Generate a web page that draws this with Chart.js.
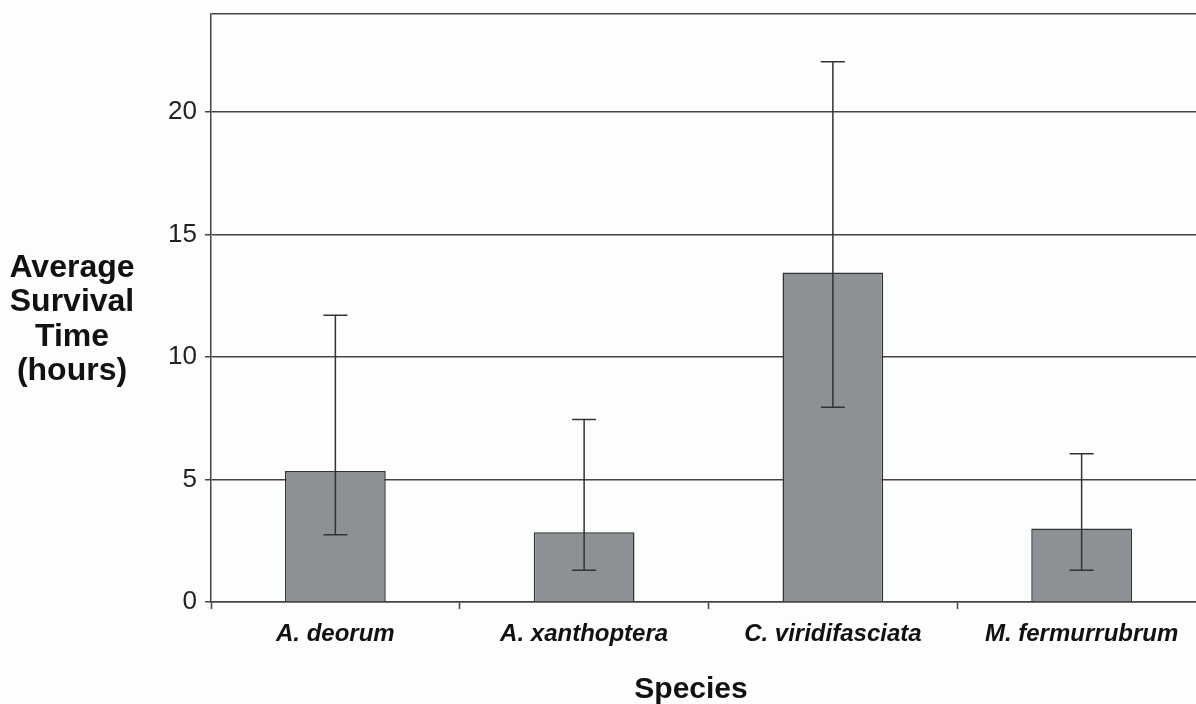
<!DOCTYPE html>
<html>
<head>
<meta charset="utf-8">
<script src="https://cdn.jsdelivr.net/npm/chart.js@4/dist/chart.umd.min.js"></script>
<style>
  html, body { margin: 0; padding: 0; overflow: hidden; background: #fcfdfd; }
  #wrap { position: relative; width: 1206px; height: 704px; }
</style>
</head>
<body>
<div id="wrap"><canvas id="survival_canvas"></canvas></div>
<script>
// data
var species    = ['A. deorum', 'A. xanthoptera', 'C. viridifasciata', 'M. fermurrubrum'];
var meanHours  = [5.35, 2.85, 13.45, 3.0];
var errLow     = [2.75, 1.3, 7.95, 1.3];
var errHigh    = [11.7, 7.45, 22.05, 6.05];
var yTicks     = [0, 5, 10, 15, 20, 24];
var yTitle     = ['Average', 'Survival', 'Time', '(hours)'];
var xTitle     = 'Species';

var FONT = '"Liberation Sans", Arial, sans-serif';

//  error bars + axis titles
var errorBarsPlugin = {
  id: 'errorBars',
  afterDatasetsDraw: function(chart) {
    var ctx = chart.ctx,
        xs  = chart.scales.x,
        ys  = chart.scales.y;

    ctx.save();
    ctx.strokeStyle = '#333';
    ctx.lineWidth = 1.5;
    for (var i = 0; i < species.length; i++) {
      var x  = xs.getPixelForValue(i),
          y1 = ys.getPixelForValue(errLow[i]),
          y2 = ys.getPixelForValue(errHigh[i]);
      ctx.beginPath();
      ctx.moveTo(x, y1); ctx.lineTo(x, y2);
      ctx.moveTo(x - 12, y1); ctx.lineTo(x + 12, y1);
      ctx.moveTo(x - 12, y2); ctx.lineTo(x + 12, y2);
      ctx.stroke();
    }
    ctx.restore();
  },
  afterDraw: function(chart) {
    var ctx = chart.ctx;
    ctx.save();
    ctx.fillStyle = '#111';
    ctx.textAlign = 'center';
    ctx.textBaseline = 'middle';
    ctx.font = 'bold 32px ' + FONT;
    for (var k = 0; k < yTitle.length; k++) {
      ctx.fillText(yTitle[k], 72, 268 + k * 34.5);
    }
    ctx.font = 'bold 30px ' + FONT;
    ctx.textBaseline = 'alphabetic';
    ctx.fillText(xTitle, 691, 698);
    ctx.restore();
  }
};

var ctx = document.getElementById('survival_canvas').getContext('2d');
var chart = new Chart(ctx, {
  type: 'bar',
  data: {
    labels: species,
    datasets: [{
      data: meanHours,
      backgroundColor: '#8b9194',
      borderColor: '#333',
      borderWidth: 1.5,
      categoryPercentage: 1,
      barPercentage: 0.405
    }]
  },
  options: {
    responsive: true,
    maintainAspectRatio: false,
    animation: false,
    devicePixelRatio: 1,
    layout: { padding: { left: 140, top: 14, right: 0, bottom: 0 } },
    plugins: {
      legend: { display: false },
      tooltip: { enabled: false }
    },
    scales: {
      x: {
        grid: {
          display: true,
          offset: true,
          drawOnChartArea: false,
          tickLength: 7,
          tickColor: '#444',
          tickWidth: 1.5
        },
        border: { color: '#444', width: 1.5 },
        ticks: {
          color: '#111',
          padding: 11,
          font: { family: FONT, size: 24, weight: 'bold', style: 'italic' }
        },
        afterFit: function(s) { s.height = 102; }
      },
      y: {
        min: 0,
        max: 24,
        afterBuildTicks: function(s) {
          s.ticks = yTicks.map(function(v) { return { value: v }; });
        },
        grid: {
          color: '#444',
          lineWidth: 1.5,
          tickLength: 6,
          tickColor: function(c) { return c.tick && c.tick.value === 24 ? 'rgba(0,0,0,0)' : '#444'; }
        },
        border: { color: '#444', width: 1.5 },
        ticks: {
          color: '#222',
          padding: 8,
          font: function(c) {
            // the 24 tick only carries the top border line, keep its label tiny
            return { family: FONT, size: (c.tick && c.tick.value === 24) ? 1 : 26 };
          },
          callback: function(v) { return v === 24 ? '' : v; }
        },
        afterFit: function(s) { s.width = 71; }
      }
    }
  },
  plugins: [errorBarsPlugin]
});
</script>
</body>
</html>
